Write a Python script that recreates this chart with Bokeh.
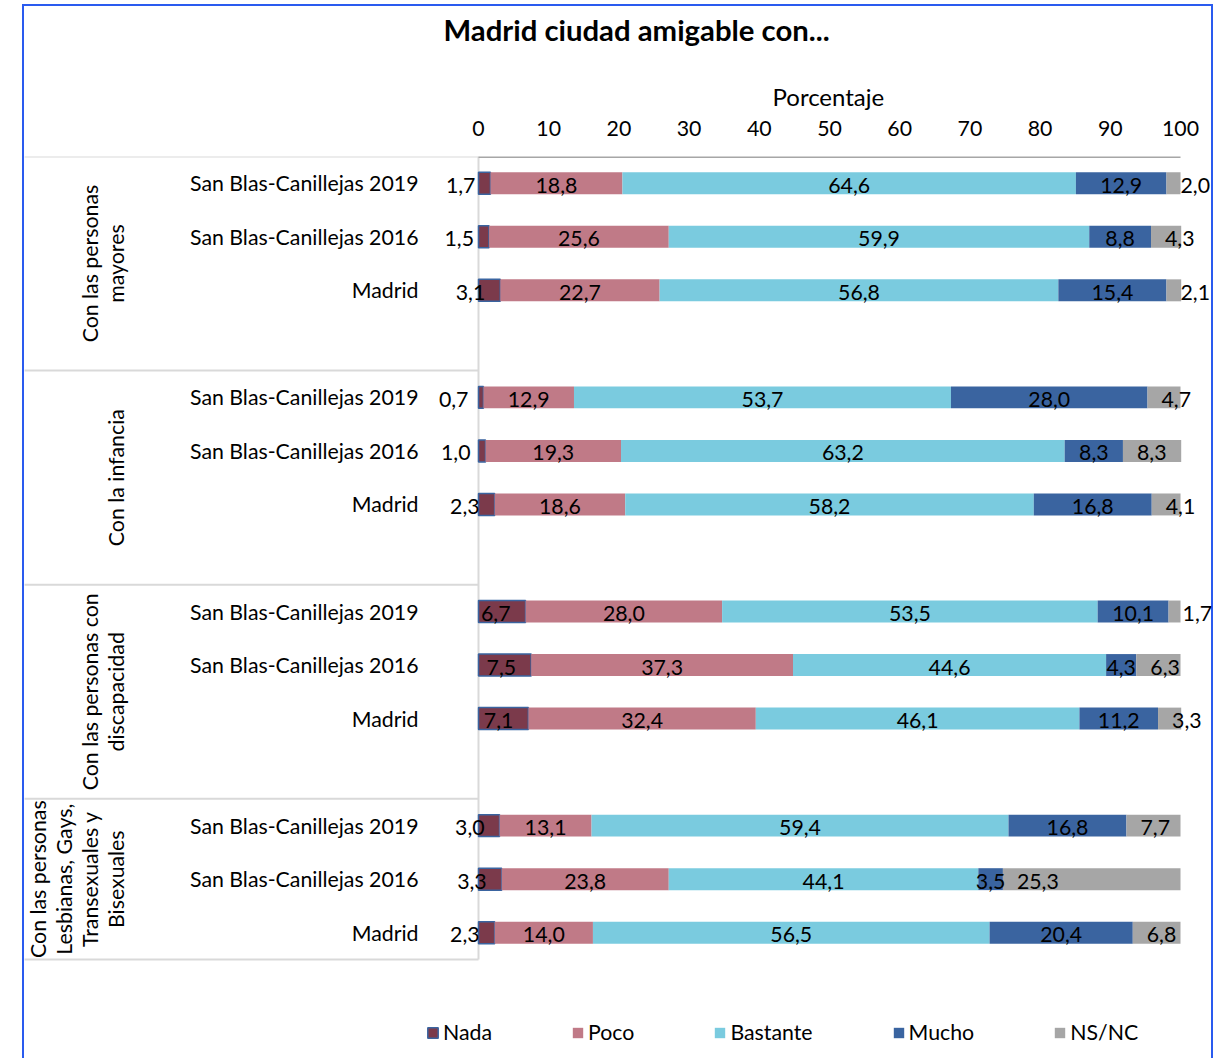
import math
from bokeh.plotting import figure
from bokeh.models import ColumnDataSource, Range1d, FixedTicker, Title
from bokeh.core.properties import value
from bokeh.embed import file_html
from bokeh.resources import INLINE

# ---------------- data ----------------
groups = [
    "Con las personas\nmayores",
    "Con la infancia",
    "Con las personas con\ndiscapacidad",
    "Con las personas\nLesbianas, Gays,\nTransexuales y\nBisexuales",
]
areas = ["San Blas-Canillejas 2019", "San Blas-Canillejas 2016", "Madrid"]

nada = [1.7, 1.5, 3.1, 0.7, 1.0, 2.3, 6.7, 7.5, 7.1, 3.0, 3.3, 2.3]
poco = [18.8, 25.6, 22.7, 12.9, 19.3, 18.6, 28.0, 37.3, 32.4, 13.1, 23.8, 14.0]
bastante = [64.6, 59.9, 56.8, 53.7, 63.2, 58.2, 53.5, 44.6, 46.1, 59.4, 44.1, 56.5]
mucho = [12.9, 8.8, 15.4, 28.0, 8.3, 16.8, 10.1, 4.3, 11.2, 16.8, 3.5, 20.4]
nsnc = [2.0, 4.3, 2.1, 4.7, 8.3, 4.1, 1.7, 6.3, 3.3, 7.7, 25.3, 6.8]

series_names = ["Nada", "Poco", "Bastante", "Mucho", "NS/NC"]
series_colors = ["#7B3A4B", "#C07A87", "#7ACBDF", "#3A64A0", "#A6A6A6"]
x_ticks = [0, 10, 20, 30, 40, 50, 60, 70, 80, 90, 100]

title_text = "Madrid ciudad amigable con..."
axis_title = "Porcentaje"

FONT = "Lato"
FS = "21.3px"

# ---------------- layout of rows ----------------
rows_y, row_labels, spans = [], [], []
slot = 0
for gi, g in enumerate(groups):
    start = slot
    for a in areas:
        rows_y.append(slot + 0.5)
        row_labels.append(a)
        slot += 1
    if gi < len(groups) - 1:
        slot += 1
    spans.append((start, slot))
total_slots = slot

fmt = lambda v: f"{v:.1f}".replace(".", ",")

p = figure(
    width=1191, height=1054,
    x_range=Range1d(-64.96, 104.70),
    y_range=Range1d(16.85, 0),
    x_axis_location="above", y_axis_location=None,
    output_backend="svg", toolbar_location=None,
    min_border_left=0, min_border_right=0, min_border_bottom=0, min_border_top=0,
    outline_line_color=None, background_fill_color=None, border_fill_color=None,
)
p.styles = {
    "margin-left": "22px",
    "margin-top": "4px",
    "box-shadow": "inset 2px 0 0 #2A5BEF, inset -2px 0 0 #2A5BEF, inset 0 2px 0 #2A5BEF",
}
p.grid.visible = False

# axis
xa = p.xaxis[0]
xa.ticker = FixedTicker(ticks=x_ticks)
xa.axis_line_color = None
xa.major_tick_line_color = None
xa.minor_tick_line_color = None
xa.major_tick_out = 0
xa.major_tick_in = 0
xa.major_label_standoff = 21
xa.major_label_text_font = FONT
xa.major_label_text_font_size = FS
xa.major_label_text_color = "black"

# titles
p.add_layout(Title(text=axis_title, align="left", offset=750, vertical_align="bottom",
                   standoff=14, text_font=FONT, text_font_size="24px",
                   text_font_style="normal", text_color="black"), "above")
p.add_layout(Title(text=" ", text_font_size="1px", standoff=13), "above")
p.title.text = title_text
p.title.align = "left"
p.title.offset = 421
p.title.vertical_align = "top"
p.title.standoff = 15
p.title.text_font = FONT
p.title.text_font_size = "29.3px"
p.title.text_font_style = "bold"
p.title.text_color = "black"

# separators of left panel
xs_left = p.x_range.start + 0.3
sep_y = [s for s, _ in spans] + [total_slots]
p.segment(x0=[xs_left] * len(sep_y), x1=[0] * len(sep_y), y0=sep_y, y1=sep_y,
          line_color="#D9D9D9", line_width=2)
p.segment(x0=[0], x1=[0], y0=[0], y1=[total_slots], line_color="#D9D9D9", line_width=2)
p.segment(x0=[0], x1=[100], y0=[0], y1=[0], line_color="#A6A6A6", line_width=3)

# bars
series = [nada, poco, bastante, mucho, nsnc]
left = [0.0] * len(rows_y)
label_sets = []
for name, color, vals in zip(series_names, series_colors, series):
    right = [l + v for l, v in zip(left, vals)]
    src = ColumnDataSource(dict(
        y=rows_y, left=left, right=right,
        mid=[(l + r) / 2 for l, r in zip(left, right)],
        lab=[fmt(v) for v in vals],
    ))
    p.hbar(y="y", left="left", right="right", height=0.41, source=src,
           fill_color=color, line_color=("#3A64A0" if name == "Nada" else None),
           line_width=1.5, legend_label=name)
    label_sets.append((name, src))
    left = right

for name, src in label_sets:
    if name == "Nada":
        p.text(x="right", y="y", text="lab", source=src, text_align="right",
               text_baseline="middle", x_offset=-15, y_offset=2,
               text_font=value(FONT), text_font_size=FS, text_color="black")
    elif name == "NS/NC":
        p.text(x="left", y="y", text="lab", source=src, text_align="left",
               text_baseline="middle", x_offset=14, y_offset=2,
               text_font=value(FONT), text_font_size=FS, text_color="black")
    else:
        p.text(x="mid", y="y", text="lab", source=src, text_align="center",
               text_baseline="middle", y_offset=2,
               text_font=value(FONT), text_font_size=FS, text_color="black")

# row labels
lab_src = ColumnDataSource(dict(x=[-8.55] * len(rows_y), y=rows_y, t=row_labels))
p.text(x="x", y="y", text="t", source=lab_src, text_align="right", text_baseline="middle",
       text_font=value(FONT), text_font_size=FS, text_color="black")

# group labels (rotated)
grp_src = ColumnDataSource(dict(
    x=[-49.86] * len(groups),
    y=[(s + e) / 2 for s, e in spans],
    t=groups,
))
p.text(x="x", y="y", text="t", source=grp_src, angle=math.pi / 2,
       text_align="center", text_baseline="bottom", text_line_height=1.0,
       text_font=value(FONT), text_font_size=FS, text_color="black")

# legend
lg = p.legend[0]
lg.orientation = "horizontal"
lg.location = (404, 13)
lg.spacing = 79
lg.glyph_width = 13
lg.glyph_height = 13
lg.label_standoff = 4
lg.label_text_font = FONT
lg.label_text_font_size = FS
lg.label_text_color = "black"
lg.border_line_color = None
lg.background_fill_alpha = 0
lg.padding = 0
lg.margin = 0

open("out.html", "w").write(file_html(p, INLINE))
